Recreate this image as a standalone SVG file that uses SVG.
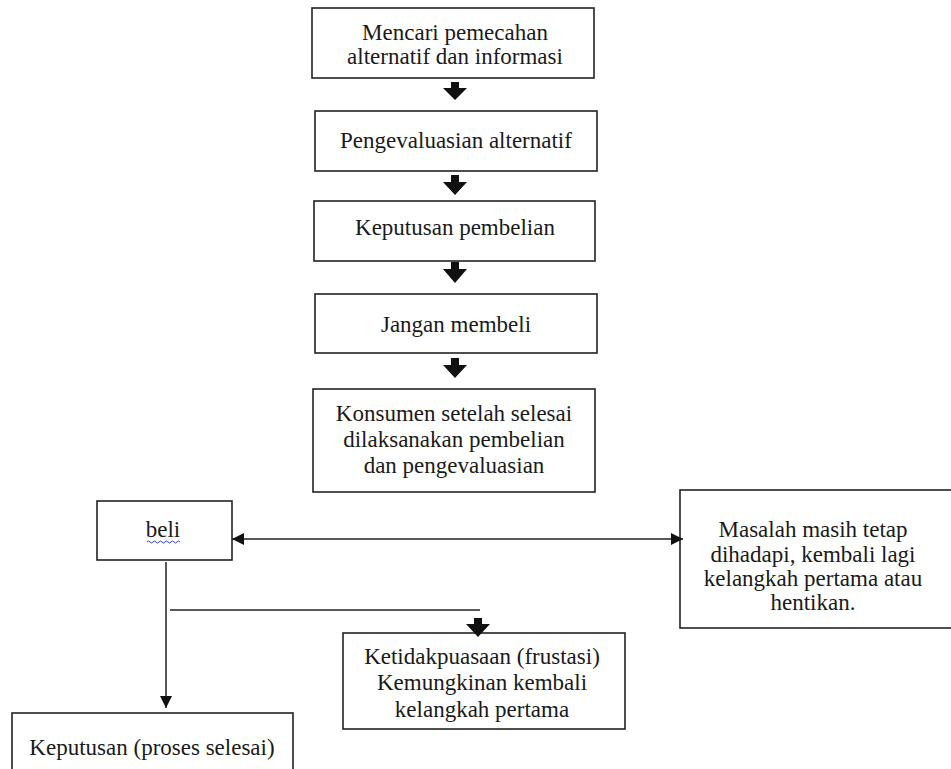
<svg xmlns="http://www.w3.org/2000/svg" width="951" height="769" viewBox="0 0 951 769">
<style>
.box{fill:#fff;stroke:#222;stroke-width:1.6}
.t{font-family:"Liberation Serif","Times New Roman",Times,"DejaVu Serif",serif;font-size:23px;fill:#1a1a1a;text-anchor:middle}
.ln{stroke:#222;stroke-width:1.5;fill:none}
.thick{fill:#111}
</style>
<defs>
<marker id="ah" viewBox="0 0 10 10" refX="10" refY="5" markerWidth="12" markerHeight="12" markerUnits="userSpaceOnUse" orient="auto-start-reverse">
<path d="M0,0 L10,5 L0,10 z" fill="#111"/>
</marker>
</defs>
<rect width="951" height="769" fill="#fff"/>
<g id="n1"><rect class="box" x="312" y="8" width="282" height="70"/>
<text class="t" x="455" y="40">Mencari pemecahan</text>
<text class="t" x="455" y="64">alternatif dan informasi</text></g>
<g id="n2"><rect class="box" x="315" y="111" width="282" height="60"/>
<text class="t" x="456" y="148">Pengevaluasian alternatif</text></g>
<g id="n3"><rect class="box" x="314" y="201" width="281" height="60"/>
<text class="t" x="455" y="235">Keputusan pembelian</text></g>
<g id="n4"><rect class="box" x="315" y="294" width="282" height="59"/>
<text class="t" x="456" y="332">Jangan membeli</text></g>
<g id="n5"><rect class="box" x="313" y="389" width="282" height="103"/>
<text class="t" x="454" y="421">Konsumen setelah selesai</text>
<text class="t" x="454" y="447">dilaksanakan pembelian</text>
<text class="t" x="454" y="473">dan pengevaluasian</text></g>
<g id="n6"><rect class="box" x="97" y="501" width="135" height="59"/>
<text class="t" x="163" y="537">beli</text>
<path d="M147,542 q1.5,-2 3,0 t3,0 t3,0 t3,0 t3,0 t3,0 t3,0 t3,0 t3,0 t3,0 t3,0" stroke="#3344dd" stroke-width="1" fill="none"/></g>
<g id="n7"><rect class="box" x="680" y="490" width="280" height="138"/>
<text class="t" x="813" y="537">Masalah masih tetap</text>
<text class="t" x="813" y="562">dihadapi, kembali lagi</text>
<text class="t" x="813" y="586">kelangkah pertama atau</text>
<text class="t" x="813" y="610">hentikan.</text></g>
<g id="n8"><rect class="box" x="343" y="633" width="282" height="96"/>
<text class="t" x="482" y="664">Ketidakpuasaan (frustasi)</text>
<text class="t" x="482" y="690">Kemungkinan kembali</text>
<text class="t" x="482" y="717">kelangkah pertama</text></g>
<g id="n9"><rect class="box" x="12" y="713" width="281" height="70"/>
<text class="t" x="152" y="755">Keputusan (proses selesai)</text></g>
<g id="connectors">
<polygon class="thick" points="451,82 459,82 459,88 467,88 455,100 443,88 451,88"/>
<polygon class="thick" points="451,175 459,175 459,182 467,182 455,195 443,182 451,182"/>
<polygon class="thick" points="451,262 459,262 459,269 467,269 455,283 443,269 451,269"/>
<polygon class="thick" points="451,358 459,358 459,365 467,365 455,378 443,365 451,365"/>
<polygon class="thick" points="474,618 482,618 482,624 490,624 478,637 466,624 474,624"/>
<line class="ln" x1="232" y1="539" x2="683" y2="539" marker-start="url(#ah)" marker-end="url(#ah)"/>
<line class="ln" x1="166" y1="562" x2="166" y2="708" marker-end="url(#ah)"/>
<line class="ln" x1="170" y1="610" x2="480" y2="610"/>
</g>
</svg>
